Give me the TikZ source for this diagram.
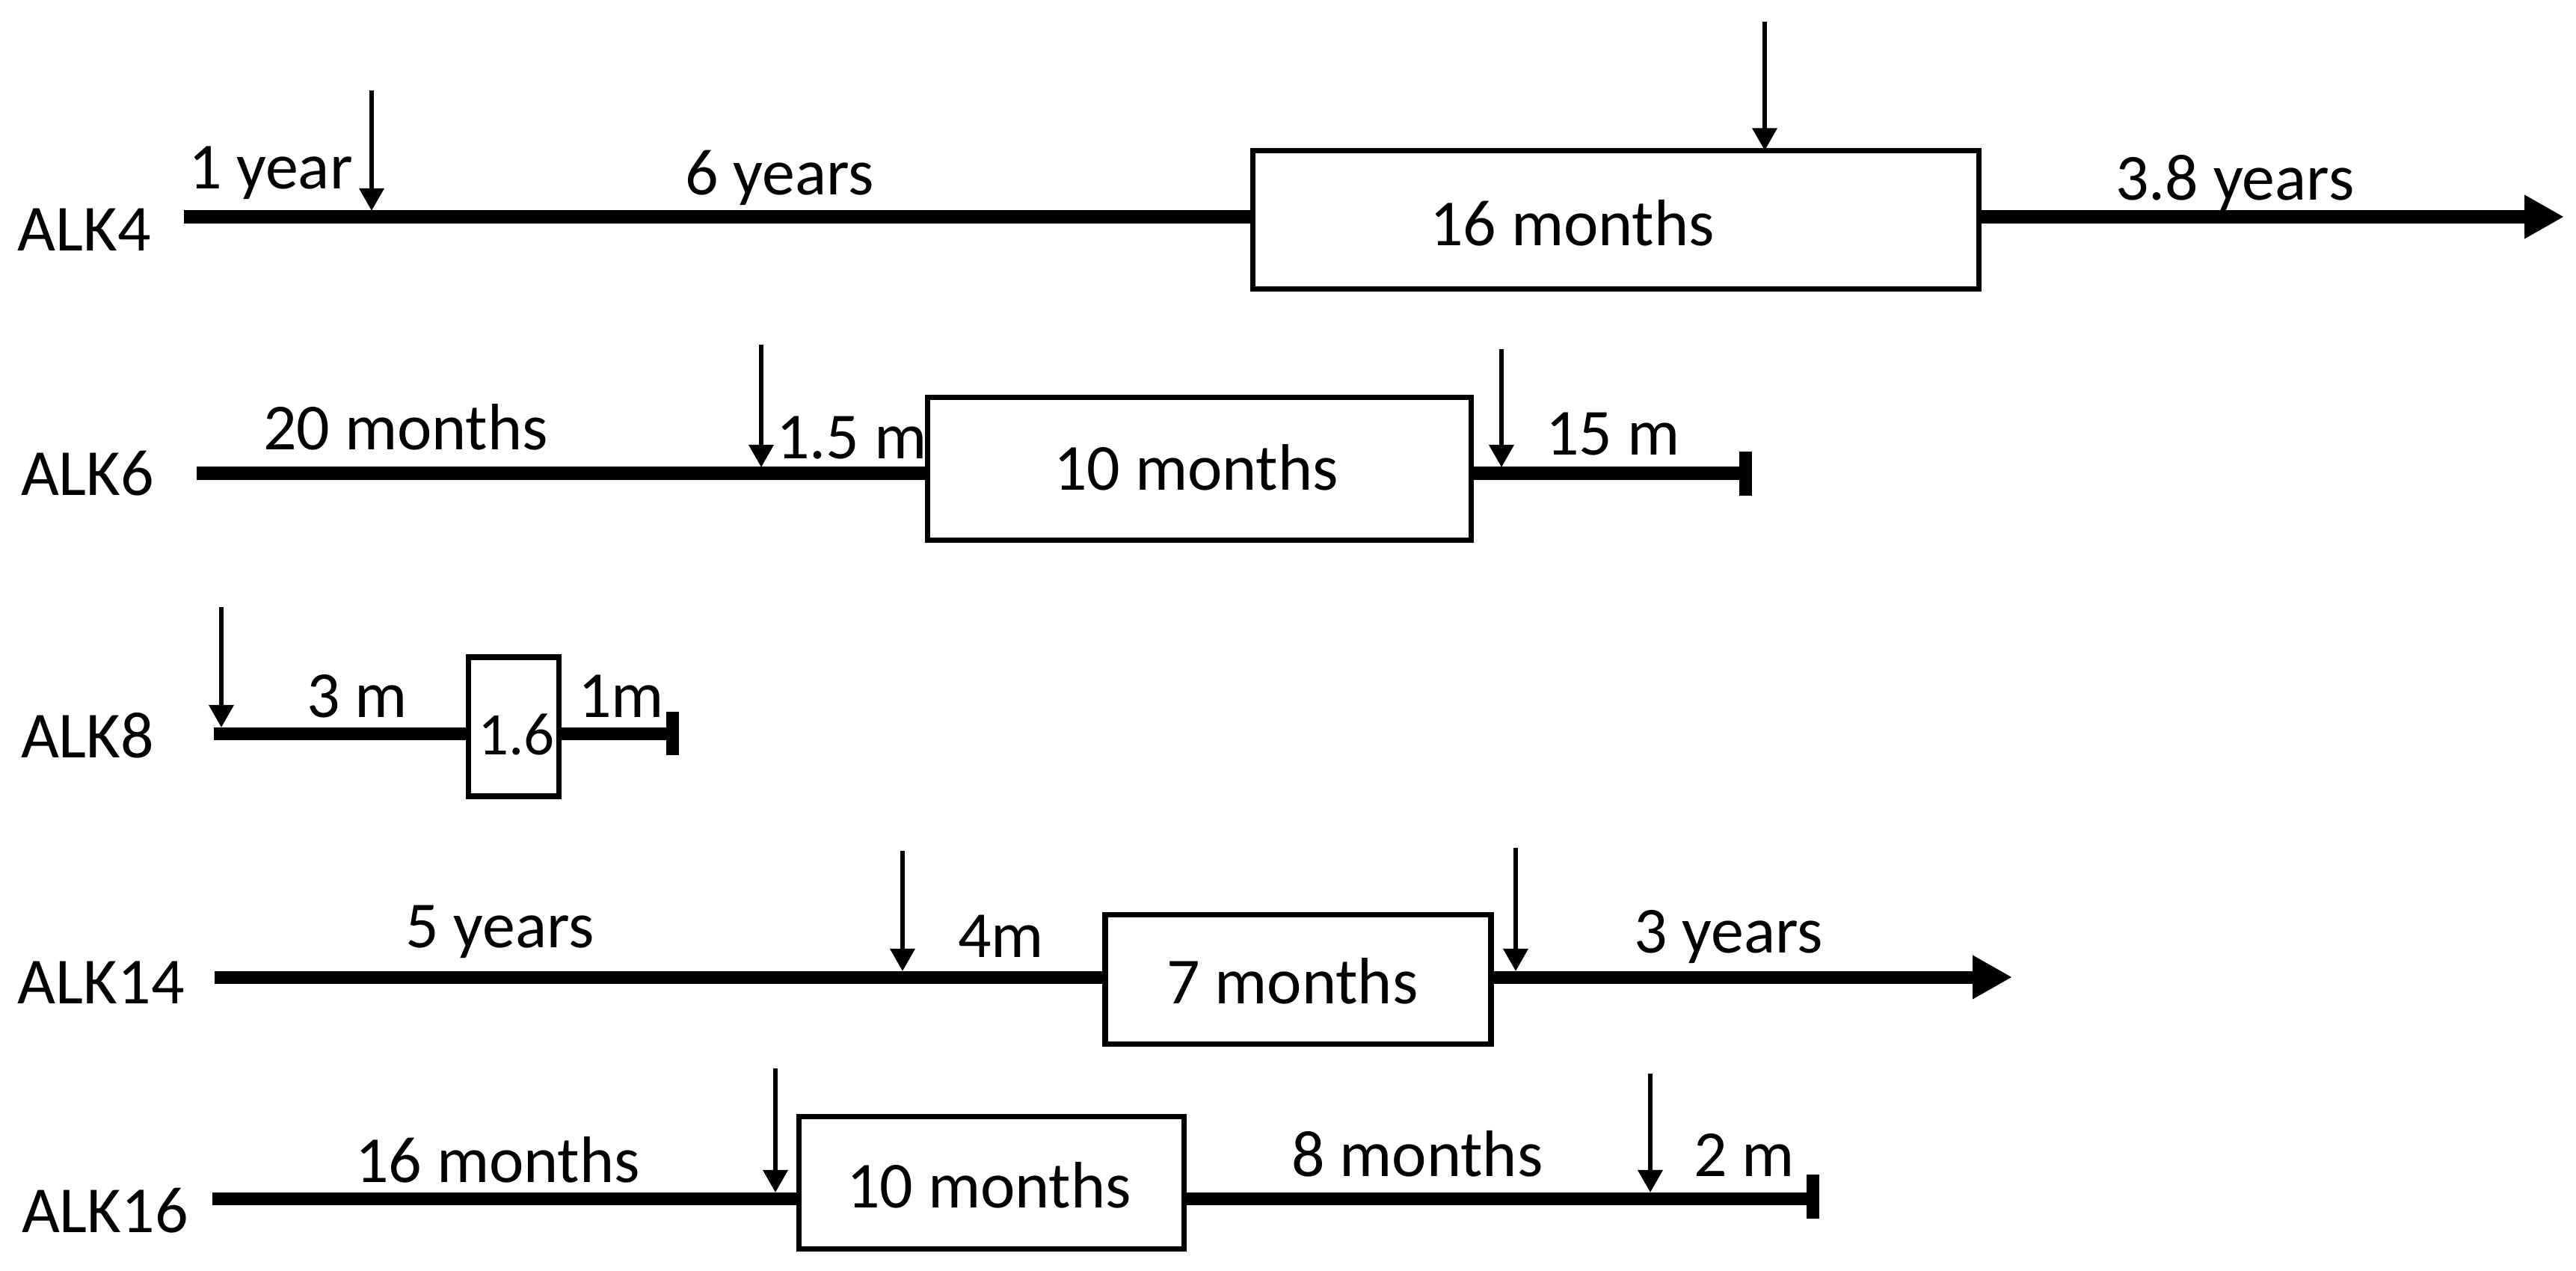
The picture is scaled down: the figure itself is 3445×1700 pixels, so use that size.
\documentclass[tikz,border=0pt]{standalone}
\usepackage{fontspec}
\setmainfont{Carlito}
\usetikzlibrary{arrows.meta}
\begin{document}
\begin{tikzpicture}[x=0.01cm,y=-0.01cm,
  mainline/.style={line width=0.17cm},
  endbar/.style={line width=0.17cm},
  endarrow/.style={-{Triangle[length=0.53cm,width=0.55cm]}},
  boxstyle/.style={draw, rectangle, line width=0.075cm, inner sep=0pt, outer sep=0pt, fill=white},
  marker/.style={line width=0.065cm, -{Triangle[length=0.30cm,width=0.32cm]}},
  lbl/.style={anchor=base west, inner sep=0pt, outer sep=0pt, font=\fontsize{25pt}{30pt}\selectfont},
  smalllbl/.style={anchor=base west, inner sep=0pt, outer sep=0pt, font=\fontsize{23pt}{28pt}\selectfont}]
\useasboundingbox[fill=white] (0,0) rectangle (3445,1700);

% ---------------- ALK4 ----------------
\node[lbl] (n4) at (24,335) {ALK4};
\coordinate (s4) at (246,290);
\coordinate (e4) at (3429,290);
\node[boxstyle, minimum width=9.70cm, minimum height=1.85cm] (B4) at (2161,294) {};
\draw[mainline] (s4) -- (s4 -| B4.west);
\draw[mainline, endarrow] (B4.east |- s4) -- (e4);
\coordinate (t4a) at (497,121);
\coordinate (p4a) at (497,282);
\draw[marker] (t4a) -- (p4a);
\coordinate (t4b) at (2360,29);
\draw[marker] (t4b) -- (t4b |- B4.north);
\node[lbl] (l4a) at (252,252) {1 year};
\node[lbl] (l4b) at (916,261) {6 years};
\node[lbl] (l4c) at (1912,328) {16 months};
\node[lbl] (l4d) at (2829,268) {3.8 years};

% ---------------- ALK6 ----------------
\node[lbl] (n6) at (28,662) {ALK6};
\coordinate (s6) at (263,633);
\coordinate (e6) at (2334,633);
\node[boxstyle, minimum width=7.265cm, minimum height=1.905cm] (B6) at (1604,627) {};
\draw[mainline] (s6) -- (s6 -| B6.west);
\draw[mainline] (B6.east |- s6) -- (e6);
\coordinate (b6t) at (2334,604);
\coordinate (b6b) at (2334,663);
\draw[endbar] (b6t) -- (b6b);
\coordinate (t6a) at (1018,461);
\coordinate (p6a) at (1018,625);
\draw[marker] (t6a) -- (p6a);
\coordinate (t6b) at (2008,467);
\coordinate (p6b) at (2008,625);
\draw[marker] (t6b) -- (p6b);
\node[lbl] (l6a) at (352,601) {20 months};
\node[lbl] (l6b) at (1038,613) {1.5 m};
\node[lbl] (l6c) at (1409,655) {10 months};
\node[lbl] (l6d) at (2067,608) {15 m};

% ---------------- ALK8 ----------------
\node[lbl] (n8) at (28,1013) {ALK8};
\coordinate (s8) at (286,981);
\coordinate (e8) at (899,981);
\node[boxstyle, minimum width=1.21cm, minimum height=1.86cm] (B8) at (687,972) {};
\draw[mainline] (s8) -- (s8 -| B8.west);
\draw[mainline] (B8.east |- s8) -- (e8);
\coordinate (b8t) at (899,952);
\coordinate (b8b) at (899,1010);
\draw[endbar] (b8t) -- (b8b);
\coordinate (t8a) at (296,812);
\coordinate (p8a) at (296,973);
\draw[marker] (t8a) -- (p8a);
\node[lbl] (l8a) at (410,959) {3 m};
\node[smalllbl] (l8b) at (639,1009) {1.6};
\node[lbl] (l8c) at (773,959) {1m};

% ---------------- ALK14 ----------------
\node[lbl] (n14) at (24,1342) {ALK14};
\coordinate (s14) at (287,1307);
\coordinate (e14) at (2691,1307);
\node[boxstyle, minimum width=5.155cm, minimum height=1.725cm] (B14) at (1736,1310) {};
\draw[mainline] (s14) -- (s14 -| B14.west);
\draw[mainline, endarrow] (B14.east |- s14) -- (e14);
\coordinate (t14a) at (1207,1138);
\coordinate (p14a) at (1207,1299);
\draw[marker] (t14a) -- (p14a);
\coordinate (t14b) at (2027,1134);
\coordinate (p14b) at (2027,1299);
\draw[marker] (t14b) -- (p14b);
\node[lbl] (l14a) at (542,1267) {5 years};
\node[lbl] (l14b) at (1281,1280) {4m};
\node[lbl] (l14c) at (1560,1342) {7 months};
\node[lbl] (l14d) at (2185,1274) {3 years};

% ---------------- ALK16 ----------------
\node[lbl] (n16) at (29,1648) {ALK16};
\coordinate (s16) at (284,1603);
\coordinate (e16) at (2424,1603);
\node[boxstyle, minimum width=5.145cm, minimum height=1.765cm] (B16) at (1326,1582) {};
\draw[mainline] (s16) -- (s16 -| B16.west);
\draw[mainline] (B16.east |- s16) -- (e16);
\coordinate (b16t) at (2424,1571);
\coordinate (b16b) at (2424,1630);
\draw[endbar] (b16t) -- (b16b);
\coordinate (t16a) at (1037,1429);
\coordinate (p16a) at (1037,1595);
\draw[marker] (t16a) -- (p16a);
\coordinate (t16b) at (2207,1436);
\coordinate (p16b) at (2207,1595);
\draw[marker] (t16b) -- (p16b);
\node[lbl] (l16a) at (475,1581) {16 months};
\node[lbl] (l16b) at (1132,1615) {10 months};
\node[lbl] (l16c) at (1727,1573) {8 months};
\node[lbl] (l16d) at (2265,1573) {2 m};
\end{tikzpicture}
\end{document}
